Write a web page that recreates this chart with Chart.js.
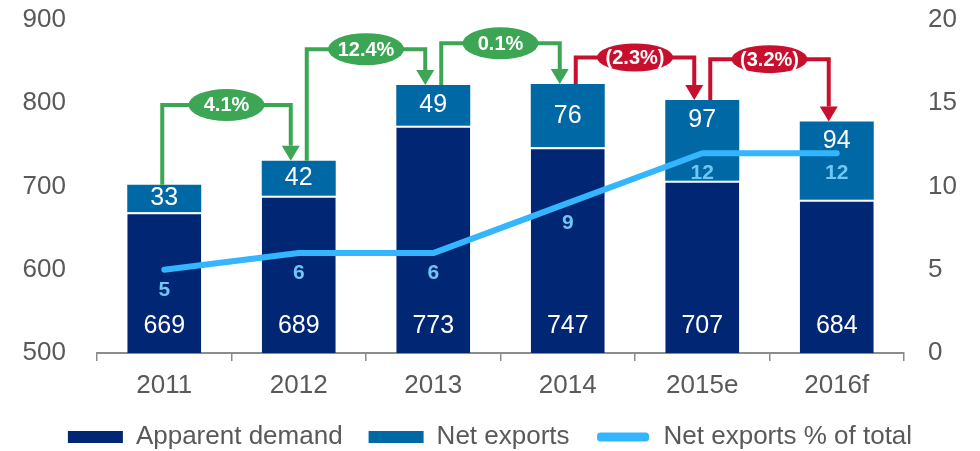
<!DOCTYPE html>
<html>
<head>
<meta charset="utf-8">
<script src="https://cdn.jsdelivr.net/npm/chart.js@4.4.1/dist/chart.umd.min.js"></script>
<style>
  html, body { margin: 0; padding: 0; background: #fff; }
  #wrap { width: 980px; height: 451px; }
</style>
</head>
<body>
<div id="wrap"><canvas id="chart" width="980" height="451"></canvas></div>
<script>
var years = ["2011", "2012", "2013", "2014", "2015e", "2016f"];
var apparentDemand = [669, 689, 773, 747, 707, 684];
var netExports = [33, 42, 49, 76, 97, 94];
var netExportsPct = [5, 6, 6, 9, 12, 12];
var growthLabels = ["4.1%", "12.4%", "0.1%", "(2.3%)", "(3.2%)"];
var growthUp = [true, true, true, false, false];
// left-axis value at which each year-on-year bracket runs
var bracketLevels = [798, 865, 872, 855, 853];

var FONT = "'Liberation Sans', Arial, sans-serif";
var NAVY = "#002674";
var MID_BLUE = "#0068a5";
var LINE_BLUE = "#33b5ff";
var LABEL_BLUE = "#6ec6f5";
var GREEN = "#3ca655";
var RED = "#c8102e";
var AXIS_TEXT = "#595959";

/** White / light-blue value labels on bars and line. */
var valueLabels = {
  id: "valueLabels",
  afterDatasetsDraw: function (chart) {
    var ctx = chart.ctx;
    var y = chart.scales.y;
    var base = y.getPixelForValue(y.min);
    var demandMeta = chart.getDatasetMeta(0);
    var exportMeta = chart.getDatasetMeta(1);
    var pctMeta = chart.getDatasetMeta(2);

    ctx.save();
    ctx.textAlign = "center";
    ctx.textBaseline = "middle";
    ctx.font = "25px " + FONT;
    ctx.fillStyle = "#fff";
    demandMeta.data.forEach(function (bar, i) {
      ctx.fillText(String(apparentDemand[i]), bar.x, base - 27);
    });
    exportMeta.data.forEach(function (bar, i) {
      var ly = (bar.y + bar.base) / 2;
      if (i >= 4) ly = bar.y + 20; // keep clear of the line labels
      ctx.fillText(String(netExports[i]), bar.x, ly);
    });

    ctx.font = "bold 21px " + FONT;
    ctx.fillStyle = LABEL_BLUE;
    pctMeta.data.forEach(function (pt, i) {
      ctx.fillText(String(netExportsPct[i]), pt.x, pt.y + 20);
    });
    ctx.restore();
  }
};

/** Elbow arrows with growth ellipses between bar tops. */
var growthBrackets = {
  id: "growthBrackets",
  afterDatasetsDraw: function (chart) {
    var ctx = chart.ctx;
    var y = chart.scales.y;
    var tops = chart.getDatasetMeta(1).data;

    ctx.save();
    ctx.lineWidth = 4;
    growthLabels.forEach(function (label, i) {
      var color = growthUp[i] ? GREEN : RED;
      var x0 = tops[i].x + (i === 0 ? -2 : 8);
      var x1 = tops[i + 1].x - 8;
      var y0 = tops[i].y;
      var y1 = tops[i + 1].y;
      var lvl = y.getPixelForValue(bracketLevels[i]);
      var headH = 15;
      var headW = 9;

      ctx.strokeStyle = color;
      ctx.fillStyle = color;
      ctx.beginPath();
      ctx.moveTo(x0, y0);
      ctx.lineTo(x0, lvl);
      ctx.lineTo(x1, lvl);
      ctx.lineTo(x1, y1 - headH);
      ctx.stroke();

      ctx.beginPath();
      ctx.moveTo(x1 - headW, y1 - headH);
      ctx.lineTo(x1 + headW, y1 - headH);
      ctx.lineTo(x1, y1);
      ctx.closePath();
      ctx.fill();

      var cx = (x0 + x1) / 2;
      ctx.beginPath();
      ctx.ellipse(cx, lvl, 38, growthUp[i] ? 16 : 14, 0, 0, Math.PI * 2);
      ctx.fill();

      ctx.fillStyle = "#fff";
      ctx.font = "bold 20px " + FONT;
      ctx.textAlign = "center";
      ctx.textBaseline = "middle";
      ctx.fillText(label, cx, lvl + 1);
    });
    ctx.restore();
  }
};

function fixWidth(w) {
  return function (s) {
    s.width = w;
    // tick padding should not push the plot area down
    s.paddingTop = 0;
    s.paddingBottom = 0;
  };
}

var canvas = document.getElementById("chart");

var chart = new Chart(canvas, {
  data: {
    labels: years,
    datasets: [
      {
        type: "bar",
        label: "Apparent demand",
        data: apparentDemand,
        backgroundColor: NAVY,
        borderColor: "#fff",
        borderWidth: { top: 2, left: 0, right: 0, bottom: 0 },
        borderSkipped: false,
        yAxisID: "y",
        stack: "s",
        order: 2
      },
      {
        type: "bar",
        label: "Net exports",
        data: netExports,
        backgroundColor: MID_BLUE,
        borderWidth: 0,
        yAxisID: "y",
        stack: "s",
        order: 2
      },
      {
        type: "line",
        label: "Net exports % of total",
        data: netExportsPct,
        borderColor: LINE_BLUE,
        backgroundColor: LINE_BLUE,
        borderWidth: 6,
        borderCapStyle: "round",
        borderJoinStyle: "round",
        pointRadius: 0,
        tension: 0,
        yAxisID: "y2",
        order: 1
      }
    ]
  },
  options: {
    responsive: false,
    animation: false,
    layout: { padding: { top: 20, bottom: -9, left: 0, right: 0 } },
    datasets: { bar: { categoryPercentage: 1, barPercentage: 0.55 } },
    plugins: {
      tooltip: { enabled: false },
      legend: {
        position: "bottom",
        labels: {
          color: AXIS_TEXT,
          font: { family: FONT, size: 26 },
          boxWidth: 55,
          boxHeight: 12,
          padding: 26,
          sort: function (a, b) { return a.datasetIndex - b.datasetIndex; },
          generateLabels: function (chart) {
            var items = Chart.defaults.plugins.legend.labels.generateLabels(chart);
            items.forEach(function (it) {
              it.fontColor = AXIS_TEXT;
              if (it.datasetIndex === 2) {
                it.fillStyle = LINE_BLUE;
                it.strokeStyle = "#fff";
                it.lineWidth = 3;
                it.borderRadius = 5;
              } else {
                it.lineWidth = 0;
              }
            });
            return items;
          }
        }
      }
    },
    scales: {
      x: {
        stacked: true,
        grid: {
          display: true,
          offset: true,
          drawOnChartArea: false,
          drawTicks: true,
          tickLength: 8,
          color: "#8c8c8c",
          lineWidth: 1.5
        },
        border: { display: true, color: "#8c8c8c", width: 2 },
        ticks: { color: AXIS_TEXT, font: { family: FONT, size: 26, lineHeight: 1 }, padding: 12 },
        afterFit: function (s) { s.height = 45; }
      },
      y: {
        stacked: true,
        position: "left",
        min: 500,
        max: 900,
        ticks: { stepSize: 100, color: AXIS_TEXT, font: { family: FONT, size: 26, lineHeight: 1 }, padding: 31 },
        grid: { display: false, drawTicks: false },
        border: { display: false },
        afterFit: fixWidth(97)
      },
      y2: {
        position: "right",
        min: 0,
        max: 20,
        ticks: { stepSize: 5, color: AXIS_TEXT, font: { family: FONT, size: 26, lineHeight: 1 }, padding: 24 },
        grid: { display: false, drawTicks: false },
        border: { display: false },
        afterFit: fixWidth(76)
      }
    }
  },
  plugins: [valueLabels, growthBrackets]
});
</script>
</body>
</html>
